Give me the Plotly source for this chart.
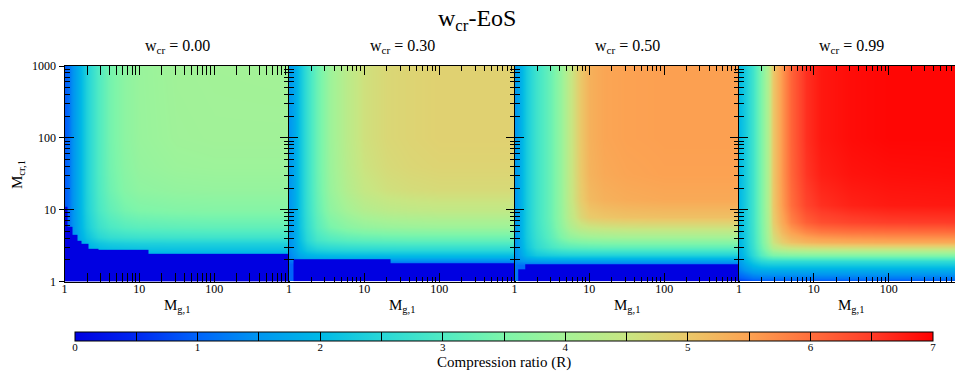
import numpy as np
import plotly.graph_objects as go

# ---------------- text ----------------
MAIN_TITLE = "w<sub>cr</sub>-EoS"
PANEL_TITLES = ["w<sub>cr</sub> = 0.00", "w<sub>cr</sub> = 0.30",
                "w<sub>cr</sub> = 0.50", "w<sub>cr</sub> = 0.99"]
X_TITLE = "M<sub>g,1</sub>"
Y_TITLE = "M<sub>cr,1</sub>"
CB_TITLE = "Compression ratio (R)"

# tick positions are log10(M); labels are the values of M
X_TICKVALS = [0, 1, 2]
X_TICKTEXT = ["1", "10", "100"]
Y_TICKVALS = [0, 1, 2, 3]
Y_TICKTEXT = ["1", "10", "100", "1000"]
CB_TICKVALS = [0, 1, 2, 3, 4, 5, 6, 7]
CB_TICKTEXT = ["0", "1", "2", "3", "4", "5", "6", "7"]
CB_ALL_TICKVALS = [0, 0.5, 1, 1.5, 2, 2.5, 3, 3.5, 4, 4.5, 5, 5.5, 6, 6.5, 7]

# ---------------- data ----------------
# grid nodes in log10(M_g,1) and log10(M_cr,1); R rows go bottom -> top
P1_LOGMG = [0, 0.05, 0.1, 0.2, 0.3, 0.45, 0.6, 0.8, 1.0, 1.5, 2.0, 3.0]
P1_LOGMCR = [0, 0.38, 0.44, 0.53, 0.62, 0.76, 1.0, 1.27, 1.6, 2.0, 3.0]
P1_R = [
    [0.9, 1.1, 1.3, 1.55, 1.75, 1.85, 1.88, 1.9, 1.9, 1.9, 1.9, 1.9],
    [0.9, 1.1, 1.3, 1.55, 1.75, 1.85, 1.88, 1.9, 1.9, 1.9, 1.9, 1.9],
    [0.9, 1.1, 1.3, 1.6, 1.85, 1.98, 2.04, 2.07, 2.09, 2.1, 2.1, 2.1],
    [0.9, 1.1, 1.35, 1.7, 2.0, 2.2, 2.3, 2.35, 2.38, 2.4, 2.4, 2.4],
    [0.9, 1.1, 1.38, 1.8, 2.15, 2.5, 2.65, 2.72, 2.76, 2.79, 2.8, 2.8],
    [0.9, 1.1, 1.4, 1.88, 2.3, 2.75, 2.95, 3.08, 3.14, 3.18, 3.2, 3.2],
    [0.9, 1.1, 1.4, 1.9, 2.38, 2.92, 3.2, 3.42, 3.52, 3.58, 3.6, 3.6],
    [0.9, 1.1, 1.4, 1.9, 2.4, 2.98, 3.33, 3.6, 3.72, 3.78, 3.8, 3.8],
    [0.9, 1.1, 1.4, 1.9, 2.4, 3.0, 3.38, 3.66, 3.8, 3.88, 3.9, 3.9],
    [0.9, 1.1, 1.4, 1.9, 2.4, 3.0, 3.4, 3.7, 3.84, 3.93, 3.95, 3.95],
    [0.9, 1.1, 1.4, 1.9, 2.4, 3.0, 3.4, 3.7, 3.85, 3.95, 3.97, 3.98],
]
# region with no solution (R = 0): column edges in log10(M_g,1), top in log10(M_cr,1)
P1_DARK_LOGMG = [0, 0.042, 0.109, 0.172, 0.23, 0.32, 0.45, 1.12, 3.0]
P1_DARK_TOP = [1.04, 0.76, 0.65, 0.56, 0.52, 0.46, 0.44, 0.39]

P2_LOGMG = [0, 0.08, 0.15, 0.24, 0.37, 0.55, 0.77, 1.0, 1.3, 1.6, 2.0, 3.0]
P2_LOGMCR = [0, 0.25, 0.30, 0.345, 0.44, 0.58, 0.76, 1.0, 1.27, 1.6, 2.0, 3.0]
P2_R = [
    [1.0, 1.0, 1.0, 1.0, 1.0, 1.0, 1.0, 1.0, 1.0, 1.0, 1.0, 1.0],
    [1.0, 1.0, 1.0, 1.0, 1.0, 1.0, 1.0, 1.0, 1.0, 1.0, 1.0, 1.0],
    [1.2, 1.35, 1.45, 1.5, 1.5, 1.5, 1.5, 1.5, 1.5, 1.5, 1.5, 1.5],
    [1.3, 1.5, 1.7, 1.8, 1.85, 1.88, 1.9, 1.9, 1.9, 1.9, 1.9, 1.9],
    [1.4, 1.65, 1.95, 2.2, 2.35, 2.42, 2.46, 2.48, 2.5, 2.5, 2.5, 2.5],
    [1.45, 1.75, 2.1, 2.5, 2.85, 3.0, 3.1, 3.15, 3.18, 3.2, 3.2, 3.2],
    [1.5, 1.8, 2.18, 2.62, 3.1, 3.45, 3.66, 3.78, 3.85, 3.88, 3.9, 3.9],
    [1.5, 1.8, 2.2, 2.68, 3.22, 3.72, 4.0, 4.2, 4.32, 4.37, 4.4, 4.4],
    [1.5, 1.8, 2.2, 2.7, 3.28, 3.84, 4.2, 4.45, 4.6, 4.66, 4.7, 4.7],
    [1.5, 1.8, 2.2, 2.7, 3.3, 3.88, 4.27, 4.55, 4.7, 4.76, 4.8, 4.8],
    [1.5, 1.8, 2.2, 2.7, 3.3, 3.9, 4.3, 4.6, 4.75, 4.8, 4.85, 4.85],
    [1.5, 1.8, 2.2, 2.7, 3.3, 3.9, 4.3, 4.6, 4.75, 4.8, 4.85, 4.85],
]
P2_DARK_LOGMG = [0.06, 1.35, 3.0]
P2_DARK_TOP = [0.31, 0.25]

P3_LOGMG = [0, 0.07, 0.16, 0.30, 0.475, 0.61, 0.74, 0.88, 1.0, 1.2, 1.5, 2.0, 3.0]
P3_LOGMCR = [0, 0.23, 0.28, 0.37, 0.48, 0.62, 0.76, 0.90, 1.13, 1.5, 2.0, 3.0]
P3_R = [
    [1.2, 1.1, 1.1, 1.1, 1.1, 1.1, 1.1, 1.1, 1.1, 1.1, 1.1, 1.1, 1.1],
    [1.2, 1.1, 1.1, 1.1, 1.1, 1.1, 1.1, 1.1, 1.1, 1.1, 1.1, 1.1, 1.1],
    [1.3, 1.45, 1.55, 1.58, 1.6, 1.6, 1.6, 1.6, 1.6, 1.6, 1.6, 1.6, 1.6],
    [1.4, 1.65, 2.0, 2.25, 2.33, 2.37, 2.39, 2.4, 2.4, 2.4, 2.4, 2.4, 2.4],
    [1.45, 1.75, 2.2, 2.6, 2.9, 3.05, 3.12, 3.16, 3.18, 3.2, 3.2, 3.2, 3.2],
    [1.5, 1.8, 2.28, 2.72, 3.15, 3.5, 3.75, 3.88, 3.94, 3.98, 4.0, 4.0, 4.0],
    [1.5, 1.8, 2.3, 2.78, 3.25, 3.7, 4.1, 4.4, 4.5, 4.56, 4.59, 4.6, 4.6],
    [1.5, 1.8, 2.3, 2.8, 3.3, 3.78, 4.3, 4.75, 4.95, 5.03, 5.08, 5.1, 5.1],
    [1.5, 1.8, 2.3, 2.8, 3.3, 3.8, 4.38, 4.92, 5.18, 5.3, 5.36, 5.4, 5.4],
    [1.5, 1.8, 2.3, 2.8, 3.3, 3.8, 4.4, 4.98, 5.27, 5.4, 5.46, 5.5, 5.5],
    [1.5, 1.8, 2.3, 2.8, 3.3, 3.8, 4.4, 5.0, 5.3, 5.45, 5.5, 5.52, 5.52],
    [1.5, 1.8, 2.3, 2.8, 3.3, 3.8, 4.4, 5.0, 5.3, 5.45, 5.5, 5.52, 5.52],
]
P3_DARK_LOGMG = [0.05, 0.14, 3.0]
P3_DARK_TOP = [0.17, 0.24]

P4_LOGMG = [0, 0.08, 0.19, 0.30, 0.39, 0.46, 0.57, 0.70, 0.90, 1.1, 1.5, 2.0, 3.0]
P4_LOGMCR = [0, 0.05, 0.16, 0.28, 0.37, 0.46, 0.55, 0.69, 0.83, 1.07, 1.5, 2.0, 3.0]
P4_R = [
    [0.5, 0.6, 0.7, 0.7, 0.7, 0.7, 0.7, 0.7, 0.7, 0.7, 0.7, 0.7, 0.7],
    [0.9, 1.0, 1.15, 1.2, 1.2, 1.2, 1.2, 1.2, 1.2, 1.2, 1.2, 1.2, 1.2],
    [1.3, 1.5, 1.7, 1.78, 1.8, 1.8, 1.8, 1.8, 1.8, 1.8, 1.8, 1.8, 1.8],
    [1.6, 1.9, 2.25, 2.5, 2.58, 2.6, 2.6, 2.6, 2.6, 2.6, 2.6, 2.6, 2.6],
    [1.8, 2.1, 2.55, 3.05, 3.35, 3.5, 3.55, 3.58, 3.6, 3.6, 3.6, 3.6, 3.6],
    [1.9, 2.2, 2.7, 3.3, 3.8, 4.2, 4.4, 4.5, 4.55, 4.58, 4.6, 4.6, 4.6],
    [1.95, 2.25, 2.75, 3.4, 4.0, 4.55, 4.9, 5.1, 5.25, 5.32, 5.37, 5.4, 5.4],
    [2.0, 2.3, 2.78, 3.45, 4.1, 4.75, 5.2, 5.5, 5.75, 5.88, 5.95, 5.98, 6.0],
    [2.0, 2.3, 2.8, 3.48, 4.15, 4.9, 5.4, 5.8, 6.15, 6.32, 6.42, 6.48, 6.5],
    [2.0, 2.3, 2.8, 3.5, 4.2, 4.98, 5.55, 6.0, 6.42, 6.6, 6.72, 6.78, 6.8],
    [2.0, 2.3, 2.8, 3.5, 4.2, 5.0, 5.6, 6.08, 6.55, 6.74, 6.84, 6.88, 6.9],
    [2.0, 2.3, 2.8, 3.5, 4.2, 5.0, 5.6, 6.1, 6.6, 6.8, 6.9, 6.95, 6.95],
    [2.0, 2.3, 2.8, 3.5, 4.2, 5.0, 5.6, 6.1, 6.6, 6.8, 6.9, 6.95, 6.95],
]
P4_DARK_LOGMG = []
P4_DARK_TOP = []

PANELS = [
    (P1_LOGMG, P1_LOGMCR, P1_R, P1_DARK_LOGMG, P1_DARK_TOP),
    (P2_LOGMG, P2_LOGMCR, P2_R, P2_DARK_LOGMG, P2_DARK_TOP),
    (P3_LOGMG, P3_LOGMCR, P3_R, P3_DARK_LOGMG, P3_DARK_TOP),
    (P4_LOGMG, P4_LOGMCR, P4_R, P4_DARK_LOGMG, P4_DARK_TOP),
]

COLORSCALE_R = [0, 0.5, 1, 1.5, 2, 2.5, 3, 3.5, 4, 4.5, 5, 5.5, 6, 6.5, 7]
COLORSCALE_C = ["rgb(0,0,225)", "rgb(0,40,240)", "rgb(0,100,250)", "rgb(0,150,240)",
                "rgb(0,185,230)", "rgb(40,215,215)", "rgb(80,235,195)", "rgb(125,245,170)",
                "rgb(165,242,150)", "rgb(200,230,130)", "rgb(235,200,105)", "rgb(252,162,82)",
                "rgb(255,110,60)", "rgb(255,60,40)", "rgb(255,0,0)"]

# ---------------- layout geometry ----------------
W, H = 955, 373
FONT = "Liberation Serif"
DEC = 224.5 / 3.0  # pixels per decade
X_DOM = [(64.5 / W, 289 / W), (289 / W, 514.5 / W), (514.5 / W, 739 / W), (739 / W, 1.0)]
X_RANGE = [[0, 3], [0, 3], [0, 3], [0, (W - 739) / DEC]]
Y_DOM = [1 - 281.5 / H, 1 - 66 / H]
MINOR_LOG = [float(np.log10(k * 10 ** d)) for d in range(3) for k in range(2, 10)]
CSCALE = [[r / 7.0, c] for r, c in zip(COLORSCALE_R, COLORSCALE_C)]

fig = go.Figure()

for i, (lx, ly, zr, dx, dtop) in enumerate(PANELS):
    xa = "x" if i == 0 else f"x{i+1}"
    ya = "y" if i == 0 else f"y{i+1}"
    fig.add_trace(go.Heatmap(x=lx, y=ly, z=zr, coloraxis="coloraxis", zsmooth="best",
                             xaxis=xa, yaxis=ya, hoverinfo="skip"))
    if dx:
        yedges = [0.0] + sorted(set(dtop))
        zmask = []
        for j in range(len(yedges) - 1):
            ym = 0.5 * (yedges[j] + yedges[j + 1])
            zmask.append([0.0 if ym < t else None for t in dtop])
        fig.add_trace(go.Heatmap(x=dx, y=yedges, z=zmask, coloraxis="coloraxis",
                                 zsmooth=False, xaxis=xa, yaxis=ya, hoverinfo="skip"))

# invisible helper traces: one carries the labelled left axis, one the ticked colorbar
fig.add_trace(go.Scatter(x=[0.5], y=[1.5], xaxis="x", yaxis="y5", mode="markers",
                         marker=dict(size=1, opacity=0), hoverinfo="skip", showlegend=False))
fig.add_trace(go.Scatter(x=[0.5], y=[1.5], xaxis="x", yaxis="y", mode="markers",
                         marker=dict(size=1, opacity=0, color=[3.5], coloraxis="coloraxis2"),
                         hoverinfo="skip", showlegend=False))

axis_common = dict(showgrid=False, zeroline=False, showline=True, linecolor="black",
                   linewidth=1, mirror="allticks", ticks="inside", ticklen=9,
                   tickwidth=1, tickcolor="black", tickmode="array",
                   tickfont=dict(family=FONT, size=12, color="black"))

layout = dict(width=W, height=H, margin=dict(l=0, r=0, t=0, b=0, autoexpand=False),
              paper_bgcolor="white", plot_bgcolor="white", showlegend=False,
              font=dict(family=FONT, size=12, color="black"))

for i in range(4):
    sx = "" if i == 0 else str(i + 1)
    layout[f"xaxis{sx}"] = dict(axis_common, domain=list(X_DOM[i]), range=X_RANGE[i],
                                anchor=f"y{sx}", tickvals=X_TICKVALS, ticktext=X_TICKTEXT,
                                minor=dict(tickvals=MINOR_LOG, ticks="inside", ticklen=5,
                                           tickcolor="black", tickwidth=1),
                                ticklabelstandoff=-4)
    ydict = dict(axis_common, domain=Y_DOM, range=[0, 3], anchor=f"x{sx}",
                 tickvals=Y_TICKVALS, showticklabels=False,
                 minor=dict(tickvals=MINOR_LOG, ticks="inside", ticklen=5,
                            tickcolor="black", tickwidth=1))
    if i == 3:
        ydict["mirror"] = False
    layout[f"yaxis{sx}"] = ydict

# outside major ticks with labels on the left edge of the first panel
layout["yaxis5"] = dict(overlaying="y", anchor="x", side="left", range=[0, 3],
                        showgrid=False, zeroline=False, showline=False,
                        ticks="outside", ticklen=5, tickcolor="black", tickwidth=1,
                        tickmode="array", tickvals=Y_TICKVALS, ticktext=Y_TICKTEXT,
                        tickfont=dict(family=FONT, size=12, color="black"))

cb_common = dict(orientation="h", x=504 / W, xanchor="center",
                 yanchor="top", lenmode="pixels", len=858, thicknessmode="pixels",
                 xpad=0, ypad=0, tickmode="array")

# colorbar carrying the tick labels (thin, sits under the ticked bar)
layout["coloraxis"] = dict(
    cmin=0, cmax=7, colorscale=CSCALE,
    colorbar=dict(cb_common, y=1 - 335.5 / H, thickness=1, outlinewidth=0, ticks="",
                  tickvals=CB_TICKVALS, ticktext=CB_TICKTEXT,
                  tickfont=dict(family=FONT, size=11, color="black")))
# colorbar drawing the visible bar with all ticks
layout["coloraxis2"] = dict(
    cmin=0, cmax=7, colorscale=CSCALE,
    colorbar=dict(cb_common, y=1 - 332 / H, thickness=9, outlinewidth=1,
                  outlinecolor="black", ticks="inside", ticklen=9, tickcolor="black",
                  tickwidth=1, tickvals=CB_ALL_TICKVALS, showticklabels=False))

ann = [dict(text=MAIN_TITLE, x=477 / W, y=1 - 20 / H, xref="paper", yref="paper",
            showarrow=False, xanchor="center", yanchor="middle",
            font=dict(family=FONT, size=24, color="black"))]
centers = [177, 402, 627, 851]
for i, c in enumerate(centers):
    ann.append(dict(text=PANEL_TITLES[i], x=c / W, y=1 - 47 / H, xref="paper", yref="paper",
                    showarrow=False, xanchor="center", yanchor="middle",
                    font=dict(family=FONT, size=16, color="black")))
    ann.append(dict(text=X_TITLE, x=c / W, y=1 - 306 / H, xref="paper", yref="paper",
                    showarrow=False, xanchor="center", yanchor="middle",
                    font=dict(family=FONT, size=15, color="black")))
ann.append(dict(text=Y_TITLE, x=18 / W, y=1 - 175 / H, xref="paper", yref="paper",
                showarrow=False, xanchor="center", yanchor="middle", textangle=-90,
                font=dict(family=FONT, size=15, color="black")))
ann.append(dict(text=CB_TITLE, x=504 / W, y=1 - 362 / H, xref="paper", yref="paper",
                showarrow=False, xanchor="center", yanchor="middle",
                font=dict(family=FONT, size=15, color="black")))
layout["annotations"] = ann

fig.update_layout(**layout)
fig.write_html("out.html")
